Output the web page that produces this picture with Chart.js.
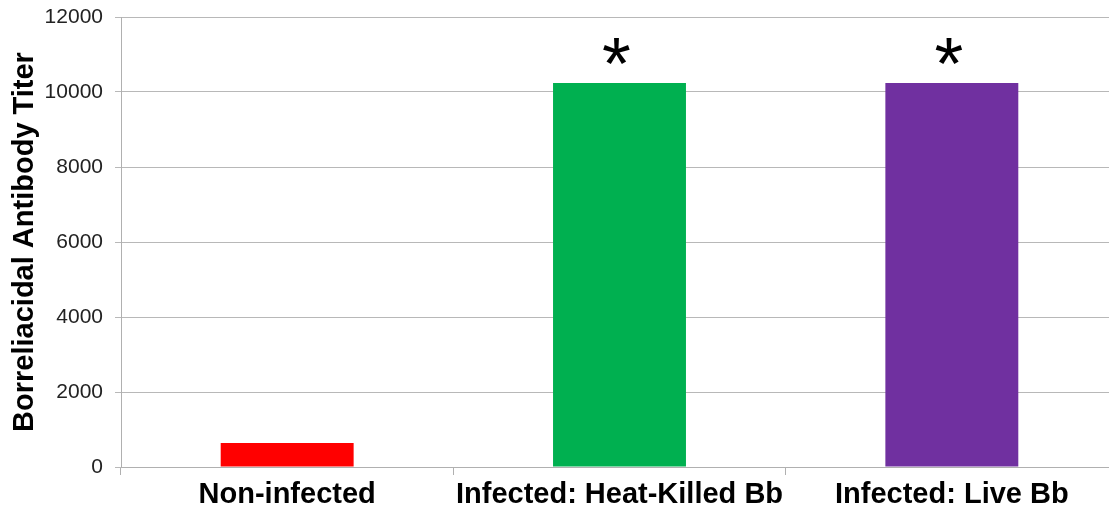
<!DOCTYPE html>
<html lang="en">
<head>
  <meta charset="UTF-8" />
  <title>Borreliacidal Antibody Titer</title>
  <script src="https://cdn.jsdelivr.net/npm/chart.js"></script>
  <style>
    html, body { margin:0; padding:0; background:#fff; overflow:hidden; }
    #wrap { width:1120px; height:513px; }
  </style>
</head>
<body>
  <div id="wrap"><canvas id="chart" width="1120" height="513"></canvas></div>
  <script>
    const categories = ['Non-infected', 'Infected: Heat-Killed Bb', 'Infected: Live Bb'];
    const titers = [640, 10240, 10240];
    const barColors = ['#FF0000', '#00B050', '#7030A0'];
    const markers = ['', '*', '*'];

    // draws the significance asterisks above the bars
    const starPlugin = {
      id: 'stars',
      afterDatasetsDraw(chart) {
        const { ctx, scales: { x, y } } = chart;
        ctx.save();
        ctx.font = '74px "Liberation Sans", Arial, sans-serif';
        ctx.fillStyle = '#000';
        ctx.textAlign = 'center';
        ctx.textBaseline = 'alphabetic';
        markers.forEach((m, i) => {
          if (!m) return;
          ctx.fillText(m, x.getPixelForValue(i) - 3, y.getPixelForValue(titers[i]) + 6);
        });
        ctx.restore();
      }
    };

    new Chart(document.getElementById('chart'), {
      type: 'bar',
      data: {
        labels: categories,
        datasets: [{
          data: titers,
          backgroundColor: barColors,
          borderWidth: 0,
          categoryPercentage: 1,
          barPercentage: 0.4
        }]
      },
      options: {
        responsive: false,
        animation: false,
        layout: { padding: { top: 17, right: 2, left: 0, bottom: 0 } },
        plugins: { legend: { display: false }, tooltip: { enabled: false } },
        scales: {
          x: {
            afterFit: s => { s.height = 46; s.paddingLeft = 0; s.paddingRight = 0; },
            grid: { offset: true, drawOnChartArea: false, color: '#b0b0b0', tickLength: 8 },
            border: { color: '#b0b0b0' },
            ticks: {
              color: '#000',
              padding: 3,
              maxRotation: 0,
              font: { family: '"Liberation Sans", Arial, sans-serif', size: 29, weight: 'bold' }
            }
          },
          y: {
            min: 0,
            max: 12000,
            afterFit: s => { s.width = 121; s.paddingTop = 0; s.paddingBottom = 0; },
            grid: { color: '#b8b8b8', tickLength: 6 },
            border: { color: '#b0b0b0' },
            ticks: {
              stepSize: 2000,
              color: '#222',
              padding: 12,
              callback: v => String(v),
              font: { family: '"Liberation Sans", Arial, sans-serif', size: 21 }
            },
            title: {
              display: true,
              text: 'Borreliacidal Antibody Titer',
              color: '#000',
              padding: { top: 8, bottom: 0 },
              font: { family: '"Liberation Sans", Arial, sans-serif', size: 29, weight: 'bold' }
            }
          }
        }
      },
      plugins: [starPlugin]
    });
  </script>
</body>
</html>
